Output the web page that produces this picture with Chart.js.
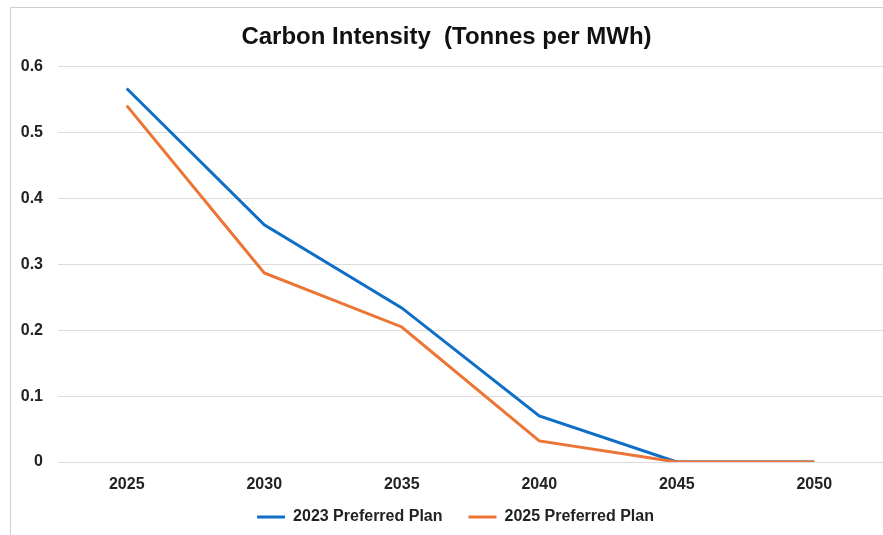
<!DOCTYPE html>
<html>
<head>
<meta charset="utf-8">
<script src="https://cdn.jsdelivr.net/npm/chart.js@4"></script>
<style>
  html, body { margin: 0; padding: 0; background: #fff; }
  #wrap { position: relative; width: 883px; height: 535px; }
  #frame {
    position: absolute; left: 10px; top: 7px; right: -2px; bottom: -2px;
    border-left: 1px solid #d0d0d0; border-top: 1px solid #d0d0d0;
    pointer-events: none;
  }
</style>
</head>
<body>
<div id="wrap">
  <canvas id="carbonChart" width="883" height="535"></canvas>
  <div id="frame"></div>
</div>
<script>
  // ==================== Data ====================
  const years = ['2025', '2030', '2035', '2040', '2045', '2050'];
  const plan2023 = [0.567, 0.360, 0.234, 0.070, 0, 0];
  const plan2025 = [0.541, 0.287, 0.205, 0.032, 0, 0];
  const yTicks = [0, 0.1, 0.2, 0.3, 0.4, 0.5, 0.6];

  const blue = '#0f6fc6';
  const orange = '#ec7434';
  const font = "'Liberation Sans', Arial, sans-serif";

  function lineSet(label, data, color, order) {
    return {
      label: label,
      data: data,
      order: order,
      borderColor: color,
      backgroundColor: color,
      borderWidth: 3,
      pointRadius: 0,
      tension: 0,
      fill: false
    };
  }

  // nudge the legend a little right, like the original
  const legendShift = {
    id: 'legendShift',
    afterLayout(chart) {
      chart.legend.left += 18;
    }
  };

  const ctx = document.getElementById('carbonChart').getContext('2d');
  new Chart(ctx, {
    type: 'line',
    data: {
      labels: years,
      datasets: [
        lineSet('2023 Preferred Plan', plan2023, blue, 2),
        lineSet('2025 Preferred Plan', plan2025, orange, 1)
      ]
    },
    plugins: [legendShift],
    options: {
      responsive: false,
      animation: false,
      layout: { padding: { left: 10, right: 0, top: 23, bottom: 0 } },
      plugins: {
        title: {
          display: true,
          text: 'Carbon Intensity  (Tonnes per MWh)',
          color: '#111',
          font: { family: font, size: 24, weight: 'bold' },
          padding: { top: 0, bottom: 15 }
        },
        legend: {
          position: 'bottom',
          labels: {
            color: '#222',
            font: { family: font, size: 16, weight: 'bold' },
            boxWidth: 28,
            boxHeight: 3,
            padding: 26,
            generateLabels: function(chart) {
              return chart.data.datasets.map(function(ds, i) {
                return {
                  text: ds.label,
                  fillStyle: ds.borderColor,
                  strokeStyle: ds.borderColor,
                  lineWidth: 0,
                  datasetIndex: i,
                  fontColor: '#222'
                };
              });
            }
          }
        },
        tooltip: { enabled: false }
      },
      scales: {
        x: {
          offset: true,
          grid: { display: false, drawTicks: false },
          border: { display: false },
          afterFit: function(scale) {
            scale.height = 21;
            // let the labels hang below the squeezed axis box
            scale._computeLabelArea = function() { return undefined; };
          },
          ticks: {
            color: '#222',
            padding: 13,
            font: { family: font, size: 16, weight: 'bold' }
          }
        },
        y: {
          min: 0,
          max: 0.6,
          afterBuildTicks: function(scale) {
            scale.ticks = yTicks.map(function(v) { return { value: v }; });
          },
          afterFit: function(scale) { scale.width = 48; },
          grid: { color: '#dcdcdc', lineWidth: 1, drawTicks: false },
          border: { display: false },
          ticks: {
            color: '#222',
            padding: 15,
            font: { family: font, size: 16, weight: 'bold' },
            callback: function(v) { return v === 0 ? '0' : v.toFixed(1); }
          }
        }
      }
    }
  });
</script>
</body>
</html>
